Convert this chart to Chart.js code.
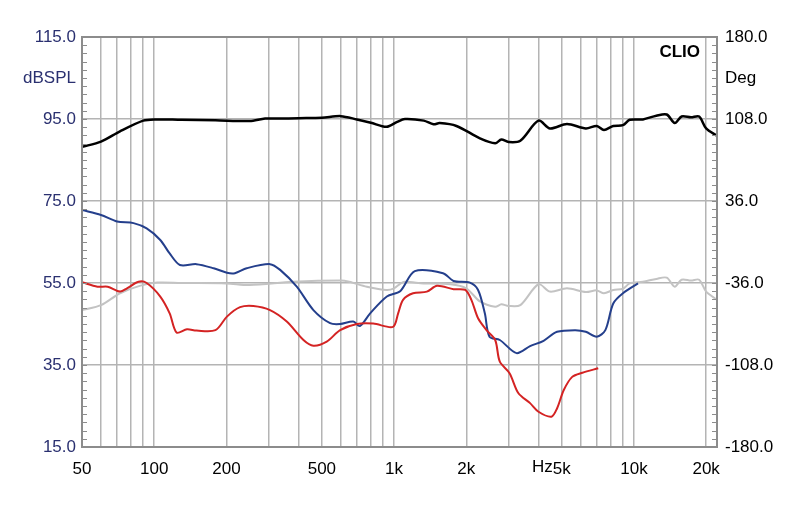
<!DOCTYPE html>
<html>
<head>
<meta charset="utf-8">
<script src="https://cdn.jsdelivr.net/npm/chart.js@4.4.1/dist/chart.umd.min.js"></script>
<style>
  html, body { margin: 0; padding: 0; background: #fff; }
  #wrap { width: 800px; height: 507px; }
</style>
</head>
<body>
<div id="wrap"><canvas id="clio"></canvas></div>
<script>
// --- Data ---
const blackFreq = [50, 60, 72, 90, 100, 130, 180, 250, 290, 330, 400, 500, 600, 700, 800, 930, 1030, 1110, 1330, 1460, 1550, 1820, 2280, 2640, 2800, 3000, 3360, 4000, 4470, 5260, 6300, 7000, 7500, 8200, 9000, 9600, 10900, 12400, 13700, 14800, 15800, 17300, 18700, 20000, 22200];
const blackDb = [88.2, 89.5, 92.0, 94.6, 94.9, 94.8, 94.7, 94.5, 95.1, 95.1, 95.2, 95.3, 95.7, 94.9, 94.1, 93.1, 94.3, 95.0, 94.6, 93.7, 94.0, 93.3, 90.3, 89.1, 90.0, 89.4, 89.7, 94.6, 92.7, 93.8, 92.7, 93.3, 92.3, 93.3, 93.5, 94.8, 94.9, 95.8, 96.1, 94.0, 95.6, 95.4, 95.6, 92.7, 90.9];

const blueFreq = [50, 60, 70, 82, 93, 106, 116, 128, 150, 177, 201, 217, 243, 304, 335, 393, 461, 541, 596, 676, 720, 795, 933, 1060, 1220, 1600, 1770, 2070, 2240, 2390, 2500, 2760, 3240, 3690, 4200, 4780, 5700, 6300, 7000, 7600, 8200, 9000, 10400];
const blueDb = [72.8, 71.6, 70.0, 69.6, 68.3, 65.5, 62.2, 59.4, 59.6, 58.6, 57.5, 57.4, 58.6, 59.6, 58.2, 54.1, 48.4, 45.2, 45.0, 45.6, 44.5, 47.6, 51.7, 53.0, 57.9, 57.4, 55.5, 55.1, 53.3, 47.6, 41.9, 41.1, 37.9, 39.6, 40.9, 43.1, 43.5, 43.1, 41.9, 43.5, 50.0, 52.5, 54.9];

const redFreq = [50, 58, 64, 72, 77, 86, 93, 106, 116, 124, 137, 150, 180, 201, 228, 259, 304, 357, 419, 461, 524, 596, 700, 819, 990, 1040, 1090, 1200, 1370, 1510, 1770, 1980, 2100, 2240, 2430, 2640, 2760, 3030, 3300, 3690, 4000, 4530, 4780, 5100, 5530, 6100, 7100];
const redDb = [55.2, 54.1, 54.1, 52.9, 53.7, 55.3, 55.0, 51.7, 47.6, 42.9, 43.7, 43.4, 43.5, 46.8, 49.1, 49.4, 48.4, 45.6, 41.1, 39.7, 40.7, 43.5, 45.0, 45.1, 44.3, 47.6, 50.9, 52.5, 52.9, 54.3, 53.5, 53.3, 50.9, 46.4, 43.5, 41.1, 35.8, 33.0, 28.1, 25.7, 23.6, 22.4, 24.4, 28.9, 32.1, 33.1, 34.2];

const grayFreq = [50, 60, 72, 87, 103, 130, 200, 250, 380, 600, 650, 770, 930, 1000, 1060, 1110, 1330, 1720, 2000, 2280, 2640, 2800, 3000, 3360, 4000, 4470, 5260, 6300, 7000, 7500, 8200, 9000, 9600, 10900, 12400, 13700, 14800, 15800, 17300, 18700, 20000, 22200];
const grayDb = [48.4, 49.6, 52.5, 54.3, 55.1, 55.0, 54.9, 54.5, 55.3, 55.6, 55.3, 54.1, 53.3, 53.7, 54.8, 55.3, 54.9, 54.7, 53.7, 50.5, 49.2, 49.8, 49.4, 49.6, 54.7, 52.9, 53.7, 52.8, 53.2, 52.5, 53.3, 53.6, 54.9, 55.3, 56.0, 56.3, 54.1, 55.8, 55.6, 55.8, 52.9, 50.9];

// --- Axes ---
const freqGrid = [50, 60, 70, 80, 90, 100, 200, 300, 400, 500, 600, 700, 800, 900, 1000, 2000, 3000, 4000, 5000, 6000, 7000, 8000, 9000, 10000, 20000];
const freqLabels = { 50: '50', 100: '100', 200: '200', 500: '500', 1000: '1k', 2000: '2k', 5000: '5k', 10000: '10k', 20000: '20k' };
const dbTicks = [115, 105, 95, 75, 55, 35, 15];
const dbLabels = { 105: 'dBSPL' };
const degTicks = [180, 144, 108, 36, -36, -108, -180];
const degLabels = { 144: 'Deg' };

const FONT = "Arial, 'Liberation Sans', sans-serif";
const GRID = '#b4b4b4';
const NAVY = '#2a3070';

const pts = (f, v) => f.map((x, i) => ({ x: x, y: v[i] }));

const line = (label, f, v, color, w) => ({
    label: label, data: pts(f, v), borderColor: color, borderWidth: w,
    pointRadius: 0, tension: 0.3, fill: false, yAxisID: 'y'
});

// frame, minor ticks and extra texts
const clioDecor = {
    id: 'clioDecor',
    afterDraw(chart) {
        const { ctx, chartArea: a, scales } = chart;
        ctx.save();
        ctx.strokeStyle = '#8c8c8c';
        ctx.lineWidth = 1;
        for (let v = 17; v < 115; v += 2) {
            const y = Math.round(scales.y.getPixelForValue(v)) + 0.5;
            ctx.beginPath();
            ctx.moveTo(a.left, y); ctx.lineTo(a.left + 5, y);
            ctx.moveTo(a.right, y); ctx.lineTo(a.right - 5, y);
            ctx.stroke();
        }
        ctx.lineWidth = 2;
        ctx.strokeRect(a.left, a.top, a.right - a.left, a.bottom - a.top);

        ctx.fillStyle = '#000';
        ctx.font = 'bold 17px ' + FONT;
        ctx.textAlign = 'right';
        ctx.textBaseline = 'middle';
        ctx.fillText('CLIO', 700, 52);

        // "Hz" sits just left of the 5k label
        ctx.font = '17px ' + FONT;
        const x5k = scales.x.getPixelForValue(5000);
        const half = ctx.measureText('5k').width / 2;
        ctx.textAlign = 'right';
        ctx.textBaseline = 'top';
        ctx.fillText('Hz', x5k - half, scales.x.top + 12);
        ctx.restore();
    }
};

new Chart(document.getElementById('clio'), {
    type: 'line',
    data: {
        datasets: [
            line('red', redFreq, redDb, '#d42323', 2),
            line('blue', blueFreq, blueDb, '#243f8c', 2),
            line('black', blackFreq, blackDb, '#000000', 2.5),
            line('gray', grayFreq, grayDb, '#c3c3c3', 2)
        ]
    },
    options: {
        responsive: true,
        maintainAspectRatio: false,
        animation: false,
        layout: { padding: { top: 37, left: 0, right: 0, bottom: 0 } },
        plugins: { legend: { display: false }, tooltip: { enabled: false } },
        scales: {
            x: {
                type: 'logarithmic', min: 50, max: 22200,
                afterBuildTicks: s => { s.ticks = freqGrid.map(v => ({ value: v })); },
                afterFit: s => { s.height = 60; },
                grid: { color: GRID, lineWidth: 1.5, drawTicks: false },
                border: { display: false },
                ticks: {
                    autoSkip: false, maxRotation: 0, padding: 12,
                    color: '#000', font: { family: FONT, size: 17 },
                    callback: (v) => freqLabels[v] || ''
                }
            },
            y: {
                position: 'left', min: 15, max: 115,
                afterBuildTicks: s => { s.ticks = dbTicks.map(v => ({ value: v })); },
                afterFit: s => { s.width = 82; },
                grid: {
                    drawTicks: false, lineWidth: 1.5,
                    color: c => [95, 75, 55, 35].includes(c.tick && c.tick.value) ? GRID : 'rgba(0,0,0,0)'
                },
                border: { display: false },
                ticks: {
                    padding: 6, color: NAVY, font: { family: FONT, size: 17 },
                    callback: v => dbLabels[v] || v.toFixed(1)
                }
            },
            y1: {
                position: 'right', min: -180, max: 180,
                afterBuildTicks: s => { s.ticks = degTicks.map(v => ({ value: v })); },
                afterFit: s => { s.width = 83; },
                grid: { display: false, drawTicks: false },
                border: { display: false },
                ticks: {
                    padding: 8, color: '#000', font: { family: FONT, size: 17 },
                    callback: v => degLabels[v] || v.toFixed(1)
                }
            }
        }
    },
    plugins: [clioDecor]
});
</script>
</body>
</html>
